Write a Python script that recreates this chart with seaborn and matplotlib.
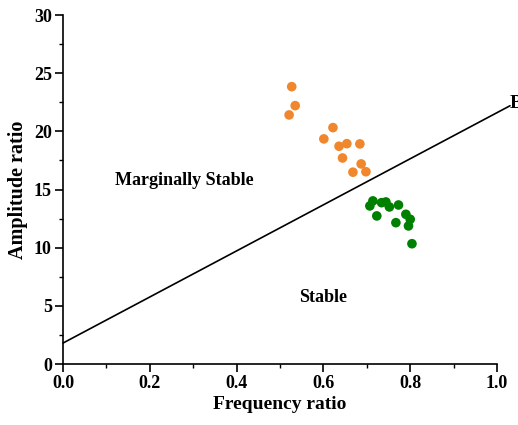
import matplotlib
matplotlib.use("Agg")
import matplotlib.pyplot as plt
import seaborn as sns
import pandas as pd
from matplotlib.ticker import MultipleLocator, FormatStrFormatter

# Data
marginal_x = [0.527, 0.535, 0.521, 0.622, 0.601, 0.636, 0.654, 0.684, 0.644, 0.687, 0.668, 0.698]
marginal_y = [23.84, 22.21, 21.41, 20.32, 19.35, 18.72, 18.94, 18.92, 17.71, 17.20, 16.49, 16.53]
stable_x = [0.707, 0.714, 0.734, 0.744, 0.752, 0.773, 0.723, 0.790, 0.800, 0.767, 0.796, 0.804]
stable_y = [13.59, 14.02, 13.87, 13.93, 13.50, 13.67, 12.73, 12.87, 12.44, 12.15, 11.87, 10.34]
line_x = [0.0, 1.03]
line_y = [1.8, 22.2]
groups = ["Marginally Stable", "Stable"]

sns.set_theme(style="ticks")
plt.rcParams['font.family'] = ['Liberation Serif', 'DejaVu Serif']
plt.rcParams['font.weight'] = 'bold'
plt.rcParams['text.color'] = 'black'
plt.rcParams['axes.labelcolor'] = 'black'

df = pd.DataFrame({
    "freq": marginal_x + stable_x,
    "amp": marginal_y + stable_y,
    "group": [groups[0]] * len(marginal_x) + [groups[1]] * len(stable_x),
})

fig = plt.figure(figsize=(5.18, 4.25), dpi=100)
ax = fig.add_axes([0.1216, 0.1435, 0.8379, 0.8212])

ax.plot(line_x, line_y, color="black", lw=1.2, clip_on=False, zorder=1)
sns.scatterplot(data=df, x="freq", y="amp", hue="group",
                palette={groups[0]: "#F0872C", groups[1]: "#008000"},
                s=48, edgecolor="none", legend=False, ax=ax, zorder=3)

ax.text(line_x[-1], line_y[-1] + 0.2, "B", fontsize=14, fontweight="bold",
        color="black", ha="left", va="center", clip_on=False)
ax.text(0.279, 15.8, "Marginally Stable", fontsize=13, fontweight="bold",
        color="black", ha="center", va="center")
ax.text(0.599, 5.76, "Stable", fontsize=13, fontweight="bold",
        color="black", ha="center", va="center")

ax.set_xlim(0, 1.0)
ax.set_ylim(0, 30)
ax.xaxis.set_major_locator(MultipleLocator(0.2))
ax.xaxis.set_minor_locator(MultipleLocator(0.1))
ax.yaxis.set_major_locator(MultipleLocator(5))
ax.yaxis.set_minor_locator(MultipleLocator(2.5))
ax.xaxis.set_major_formatter(FormatStrFormatter("%.1f"))

for s in ["top", "right"]:
    ax.spines[s].set_visible(False)
for s in ["left", "bottom"]:
    ax.spines[s].set_linewidth(1.2)
    ax.spines[s].set_color("black")

ax.tick_params(which="major", length=5.5, width=1.2, direction="out", labelsize=13,
               colors="black", pad=2.5)
ax.tick_params(which="minor", length=3, width=1.0, direction="out", colors="black")
for lab in ax.get_xticklabels() + ax.get_yticklabels():
    lab.set_fontweight("bold")

ax.set_xlabel("Frequency ratio", fontsize=14, fontweight="bold", labelpad=3)
ax.set_ylabel("Amplitude ratio", fontsize=14.5, fontweight="bold", labelpad=4)

fig.savefig("out.png", dpi=100)
